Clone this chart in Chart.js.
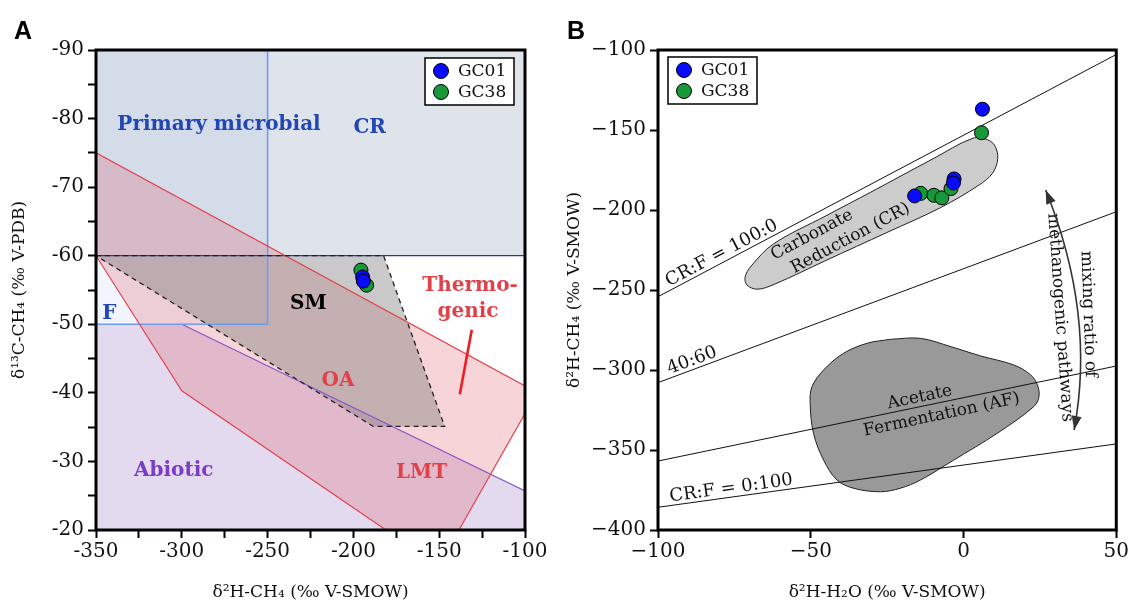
<!DOCTYPE html>
<html>
<head>
<meta charset="utf-8">
<script src="https://cdn.jsdelivr.net/npm/chart.js@4.4.0/dist/chart.umd.min.js"></script>
<style>
  html, body { margin: 0; padding: 0; background: #fff; }
  #wrap { position: relative; width: 1131px; height: 603px; }
  #chartA { position: absolute; left: 0; top: 0; }
  #chartB { position: absolute; left: 560px; top: 0; }
</style>
</head>
<body>
<div id="wrap">
  <canvas id="chartA" width="560" height="603"></canvas>
  <canvas id="chartB" width="571" height="603"></canvas>
</div>
<script>
// ---------- panel A : d2H-CH4 vs d13C-CH4 ----------
const gc01_d2hCH4 = [-194.6, -194.2];
const gc01_d13C = [-56.9, -56.3];
const gc38_d2hCH4 = [-195.6, -192.3];
const gc38_d13C = [-57.9, -55.7];

// genetic fields
const crFieldX = [-350, -100, -100, -350];
const crFieldY = [-90, -90, -60, -60];
const microbialX = [-350, -250, -250, -350];
const microbialY = [-90, -90, -50, -50];
const thermoX = [-350, -100, -100, -138.5, -181, -300, -350];
const thermoY = [-75, -41, -37, -20, -20, -40.3, -60];
const abioticX = [-350, -300, -100, -100, -350];
const abioticY = [-50, -50, -25.7, -20, -20];
const abioticEdgeX = [-300, -100];
const abioticEdgeY = [-50, -25.7];
const smX = [-350, -182.4, -146.8, -188.4];
const smY = [-60, -60, -35.1, -35.1];
const pointerX = [-131, -138];
const pointerY = [-49.2, -39.8];

const xLabelsA = [-350, -300, -250, -200, -150, -100];
const yLabelsA = [-90, -80, -70, -60, -50, -40, -30, -20];

// ---------- panel B : d2H-H2O vs d2H-CH4 ----------
const gc01_d2hH2O = [6.2, -16.0, -3.1, -3.3];
const gc01_d2hCH4B = [-137.0, -191.2, -180.6, -183.1];
const gc38_d2hH2O = [5.9, -14.0, -9.7, -7.1, -4.1];
const gc38_d2hCH4B = [-151.7, -189.6, -190.8, -192.4, -186.6];

const mixX = [-100, 50];
const mixLeftY = [-254.2, -307.9, -356.9, -385.8];
const mixRightY = [-102.8, -201.1, -297.5, -346.2];
const mixLabels = ['CR:F = 100:0', '40:60', '', 'CR:F = 0:100'];

const crBlobX = [-30, -10, 3, 7.8, 10.3, 11.2, 9.5, 5, -7.5, -25, -45, -62, -67.5, -70.8, -71.5, -69.5, -62.2, -45, -30];
const crBlobY = [-188.5, -168, -155.2, -156, -160, -168, -177, -184.5, -198.5, -214, -231.5, -246.5, -249.5, -247, -242, -235, -221.2, -203.6, -188.5];
const afBlobX = [-23.9, -14.1, -4, 5.6, 16.5, 22, 24.2, 24.7, 23, 11, -3.2, -14.1, -20.7, -27.2, -36, -41.4, -45.8, -49.1, -50.2, -49.6, -45.8, -39.3, -31.6, -23.9];
const afBlobY = [-280.8, -280.2, -285.5, -291.2, -296.9, -303.1, -309.4, -316.7, -322.9, -339.6, -356.3, -368.8, -373.9, -376.1, -373.9, -368.8, -356.3, -339.6, -320.8, -310.4, -300, -289.6, -283.3, -280.8];

const xLabelsB = [-100, -50, 0, 50];
const yLabelsB = [-400, -350, -300, -250, -200, -150, -100];

// ---------- helpers ----------
const SERIF = '"DejaVu Serif", serif';
const BLUE = '#0a0aff', GREEN = '#17993a';

const pts = (xs, ys) => xs.map((x, i) => ({x, y: ys[i]}));
const closed = (xs, ys) => { const p = pts(xs, ys); p.push({...p[0]}); return p; };

function fillArea(data, color, order) {
  return {data, showLine: true, fill: 'shape', backgroundColor: color, borderColor: 'rgba(0,0,0,0)',
          borderWidth: 0, pointRadius: 0, order};
}
function edge(data, color, width, order, dash) {
  return {data, showLine: true, fill: false, borderColor: color, borderWidth: width,
          borderDash: dash || [], pointRadius: 0, order};
}
function samples(label, data, color) {
  return {label, data, inLegend: true, backgroundColor: color, borderColor: '#000',
          borderWidth: 1, pointRadius: 7, order: 0};
}

const overlay = {
  id: 'overlay',
  afterDatasetsDraw(chart, args, opts) {
    const ctx = chart.ctx, sx = chart.scales.x, sy = chart.scales.y;
    ctx.save();
    for (const t of opts.labels || []) {
      let px = sx.getPixelForValue(t.x), py = sy.getPixelForValue(t.y);
      let ang = (t.angle || 0) * Math.PI / 180;
      if (t.line) {
        const [x1, y1, x2, y2] = t.line;
        const ax = sx.getPixelForValue(x1), ay = sy.getPixelForValue(y1);
        const bx = sx.getPixelForValue(x2), by = sy.getPixelForValue(y2);
        ang = Math.atan2(by - ay, bx - ax);
        const yl = y1 + (y2 - y1) * (t.x - x1) / (x2 - x1);
        px = sx.getPixelForValue(t.x) + Math.sin(ang) * t.gap;
        py = sy.getPixelForValue(yl) - Math.cos(ang) * t.gap;
      }
      ctx.save();
      ctx.translate(px, py);
      ctx.rotate(ang);
      ctx.font = t.font;
      ctx.fillStyle = t.color || '#111';
      ctx.textAlign = t.align || 'center';
      ctx.textBaseline = t.baseline || 'middle';
      ctx.fillText(t.text, 0, 0);
      ctx.restore();
    }
    if (opts.arrow) {
      const [p0, c, p2] = opts.arrow.map(p => [sx.getPixelForValue(p[0]), sy.getPixelForValue(p[1])]);
      ctx.strokeStyle = '#333'; ctx.fillStyle = '#333'; ctx.lineWidth = 1.6;
      ctx.beginPath(); ctx.moveTo(p0[0], p0[1]); ctx.quadraticCurveTo(c[0], c[1], p2[0], p2[1]); ctx.stroke();
      const head = (tip, from) => {
        const a = Math.atan2(tip[1] - from[1], tip[0] - from[0]);
        ctx.beginPath();
        ctx.moveTo(tip[0], tip[1]);
        ctx.lineTo(tip[0] - 14 * Math.cos(a) + 5 * Math.sin(a), tip[1] - 14 * Math.sin(a) - 5 * Math.cos(a));
        ctx.lineTo(tip[0] - 14 * Math.cos(a) - 5 * Math.sin(a), tip[1] - 14 * Math.sin(a) + 5 * Math.cos(a));
        ctx.closePath(); ctx.fill();
      };
      head(p0, c); head(p2, c);
    }
    ctx.restore();
  },
  afterDraw(chart, args, opts) {
    const ctx = chart.ctx, a = chart.chartArea;
    ctx.save();
    ctx.strokeStyle = '#000'; ctx.lineWidth = 3;
    ctx.strokeRect(a.left, a.top, a.right - a.left, a.bottom - a.top);
    // legend box
    const lg = opts.legend;
    const entries = chart.data.datasets.filter(d => d.inLegend);
    const bx = lg.side === 'right' ? a.right - lg.dx - lg.w : a.left + lg.dx;
    const by = a.top + lg.dy;
    ctx.fillStyle = '#fff'; ctx.fillRect(bx, by, lg.w, lg.h);
    ctx.lineWidth = 1.5; ctx.strokeRect(bx, by, lg.w, lg.h);
    entries.forEach((d, i) => {
      const cy = by + 13 + i * 21;
      ctx.beginPath(); ctx.arc(bx + 16, cy, 7.5, 0, Math.PI * 2);
      ctx.fillStyle = d.backgroundColor; ctx.fill();
      ctx.lineWidth = 1; ctx.strokeStyle = '#000'; ctx.stroke();
      ctx.fillStyle = '#111'; ctx.font = '17px ' + SERIF;
      ctx.textAlign = 'left'; ctx.textBaseline = 'middle';
      ctx.fillText(d.label, bx + 33, cy + 1);
    });
    // panel letter
    ctx.fillStyle = '#000'; ctx.font = 'bold 25px "Liberation Sans", Arial, sans-serif';
    ctx.textAlign = 'left'; ctx.textBaseline = 'alphabetic';
    ctx.fillText(opts.letter, opts.letterX, 39);
    ctx.restore();
  }
};

function axis(cfg) {
  return {
    type: 'linear', min: cfg.min, max: cfg.max, reverse: !!cfg.reverse,
    afterFit: s => { if (cfg.width) s.width = cfg.width; if (cfg.height) s.height = cfg.height; },
    border: {display: false},
    grid: {drawOnChartArea: false, drawTicks: true, tickLength: 8, tickWidth: 2, tickColor: '#000'},
    ticks: {stepSize: cfg.step, autoSkip: false, maxRotation: 0, padding: cfg.pad,
            color: '#111', font: {family: SERIF, size: 20},
            callback: v => cfg.labels.includes(v) ? (cfg.minus ? String(v).replace('-', '\u2212') : String(v)) : ''},
    title: {display: true, text: cfg.title, color: '#111', padding: 0, font: {family: SERIF, size: 17}}
  };
}

Chart.register(overlay);

// ---------- chart A ----------
const boldA = 'bold 20px ' + SERIF;
new Chart(document.getElementById('chartA'), {
  type: 'scatter',
  data: {
    datasets: [
      samples('GC01', pts(gc01_d2hCH4, gc01_d13C), BLUE),
      samples('GC38', pts(gc38_d2hCH4, gc38_d13C), GREEN),
      edge(pts(pointerX, pointerY), '#ee1c24', 2.6, 3),
      edge(closed(smX, smY), '#222', 1.3, 4, [5, 4]),
      edge(closed(thermoX, thermoY), '#e0454d', 1.2, 5),
      edge(closed(microbialX, microbialY), '#6f9cf0', 1.6, 6),
      edge(closed(crFieldX, crFieldY), '#2b3a88', 1.3, 7),
      edge(pts(abioticEdgeX, abioticEdgeY), '#8a57cc', 1.2, 8),
      fillArea(closed(smX, smY), 'rgba(120,120,120,0.40)', 16),
      fillArea(closed(thermoX, thermoY), 'rgba(222,100,112,0.28)', 17),
      fillArea(closed(microbialX, microbialY), 'rgba(110,145,235,0.09)', 18),
      fillArea(closed(crFieldX, crFieldY), '#dfe3ea', 19),
      fillArea(closed(abioticX, abioticY), '#e4daef', 20)
    ]
  },
  options: {
    responsive: false, animation: false, events: [],
    layout: {padding: {left: 9, right: 35, top: 50, bottom: 0}},
    scales: {
      x: axis({min: -350, max: -100, step: 25, labels: xLabelsA, height: 73, pad: 2,
               title: 'δ²H-CH₄ (‰ V-SMOW)'}),
      y: axis({min: -90, max: -20, step: 5, reverse: true, labels: yLabelsA, width: 87, pad: 4,
               title: 'δ¹³C-CH₄ (‰ V-PDB)'})
    },
    plugins: {
      legend: {display: false}, tooltip: {enabled: false},
      overlay: {
        letter: 'A', letterX: 14,
        legend: {side: 'right', dx: 11, dy: 8, w: 89, h: 47},
        labels: [
          {text: 'Primary microbial', x: -278.3, y: -79.1, font: boldA, color: '#2147b5'},
          {text: 'CR', x: -190.5, y: -78.7, font: boldA, color: '#2147b5'},
          {text: 'F', x: -342.2, y: -51.6, font: boldA, color: '#2147b5'},
          {text: 'SM', x: -226.3, y: -53.0, font: boldA, color: '#000'},
          {text: 'Thermo-', x: -132.0, y: -55.6, font: boldA, color: '#e0424b'},
          {text: 'genic', x: -133.2, y: -51.8, font: boldA, color: '#e0424b'},
          {text: 'OA', x: -209.0, y: -41.7, font: boldA, color: '#e0424b'},
          {text: 'Abiotic', x: -304.7, y: -28.7, font: boldA, color: '#7a3cc7'},
          {text: 'LMT', x: -160.3, y: -28.4, font: boldA, color: '#e0424b'}
        ]
      }
    }
  }
});

// ---------- chart B ----------
const mixSets = mixLeftY.map((y0, i) => edge(pts(mixX, [y0, mixRightY[i]]), '#111', 1, 3));
const lineOf = i => [mixX[0], mixLeftY[i], mixX[1], mixRightY[i]];
const txtB = '17px ' + SERIF, lblB = '18px ' + SERIF;
const lineLabels = mixLabels.map((t, i) => ({text: t, x: -95.8, line: lineOf(i), gap: 4,
  font: lblB, align: 'left', baseline: 'alphabetic'})).filter(l => l.text);

new Chart(document.getElementById('chartB'), {
  type: 'scatter',
  data: {
    datasets: [
      samples('GC01', pts(gc01_d2hH2O, gc01_d2hCH4B), BLUE),
      samples('GC38', pts(gc38_d2hH2O, gc38_d2hCH4B), GREEN),
      ...mixSets,
      {data: pts(crBlobX, crBlobY), showLine: true, fill: 'shape', tension: 0.35, backgroundColor: '#cccccc',
       borderColor: '#222', borderWidth: 1, pointRadius: 0, order: 10},
      {data: pts(afBlobX, afBlobY), showLine: true, fill: 'shape', tension: 0.35, backgroundColor: '#999999',
       borderColor: '#222', borderWidth: 1, pointRadius: 0, order: 11}
    ]
  },
  options: {
    responsive: false, animation: false, events: [],
    layout: {padding: {left: 4, right: 12, top: 50, bottom: 0}},
    scales: {
      x: axis({min: -100, max: 50, step: 50, labels: xLabelsB, height: 73, pad: 2, minus: true,
               title: 'δ²H-H₂O (‰ V-SMOW)'}),
      y: axis({min: -400, max: -100, step: 50, labels: yLabelsB, width: 94, pad: 4, minus: true,
               title: 'δ²H-CH₄ (‰ V-SMOW)'})
    },
    plugins: {
      legend: {display: false}, tooltip: {enabled: false},
      overlay: {
        letter: 'B', letterX: 7,
        legend: {side: 'left', dx: 10, dy: 7, w: 89, h: 47},
        arrow: [[26.9, -187.5], [43.3, -265], [36.2, -337.5]],
        labels: [
          ...lineLabels,
          {text: 'Carbonate', x: -49.6, y: -215.6, angle: -28, font: txtB},
          {text: 'Reduction (CR)', x: -37.0, y: -217.7, angle: -28, font: txtB},
          {text: 'Acetate', x: -14.3, y: -317.1, angle: -12, font: txtB},
          {text: 'Fermentation (AF)', x: -7.2, y: -328.1, angle: -12, font: txtB},
          {text: 'mixing ratio of', x: 40.8, y: -265.1, angle: 88, font: txtB},
          {text: 'methanogenic pathways', x: 31.6, y: -267.2, angle: 86, font: txtB}
        ]
      }
    }
  }
});
</script>
</body>
</html>
